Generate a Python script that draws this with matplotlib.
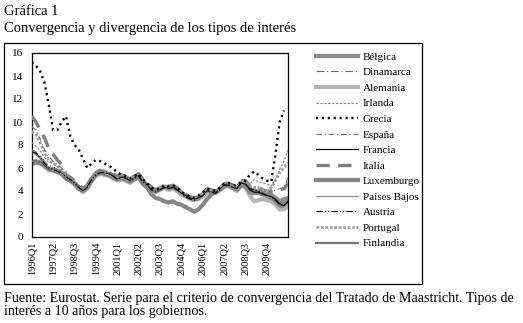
"""Gráfica 1: convergencia y divergencia de los tipos de interés a 10 años."""
import matplotlib
matplotlib.use("Agg")
import numpy as np
import matplotlib.pyplot as plt
from matplotlib.patches import Rectangle

plt.rcParams["font.family"] = ["Liberation Serif", "DejaVu Serif"]

# 1996Q1 .. 2011Q1
quarters = [f"{y}Q{q}" for y in range(1996, 2011) for q in range(1, 5)] + ["2011Q1"]
tick_labels = ["1996Q1", "1997Q2", "1998Q3", "1999Q4", "2001Q1", "2002Q2",
               "2003Q3", "2004Q4", "2006Q1", "2007Q2", "2008Q3", "2009Q4"]

belgica = [6.5, 6.6, 6.5, 6.2, 5.9, 5.9, 5.7, 5.6, 5.2, 5.0, 4.7, 4.3,
           4.0, 4.4, 5.1, 5.4, 5.7, 5.6, 5.5, 5.3, 5.1, 5.3, 5.2, 5.0,
           5.2, 5.4, 4.9, 4.5, 4.2, 4.0, 4.2, 4.4, 4.3, 4.4, 4.2, 3.9,
           3.6, 3.4, 3.3, 3.4, 3.7, 4.1, 4.0, 3.9, 4.2, 4.6, 4.6, 4.4,
           4.3, 4.7, 4.7, 4.2, 4.0, 3.9, 3.7, 3.6, 3.7, 3.4, 3.1, 3.3, 3.4]
dinamarca = [7.6, 7.4, 7.0, 6.6, 6.2, 6.1, 5.9, 5.7, 5.3, 5.1, 4.8, 4.5,
             4.2, 4.5, 5.2, 5.6, 5.8, 5.7, 5.7, 5.5, 5.2, 5.3, 5.2, 5.0,
             5.2, 5.4, 4.9, 4.6, 4.2, 4.0, 4.2, 4.4, 4.3, 4.4, 4.2, 3.8,
             3.5, 3.3, 3.2, 3.3, 3.6, 4.0, 3.9, 3.8, 4.1, 4.5, 4.5, 4.3,
             4.2, 4.7, 4.6, 4.2, 3.8, 3.9, 3.7, 3.5, 3.4, 3.0, 2.6, 2.6, 3.0]
alemania = [6.3, 6.5, 6.4, 6.1, 5.8, 5.8, 5.6, 5.5, 5.1, 4.9, 4.6, 4.2,
            3.9, 4.2, 4.9, 5.3, 5.5, 5.4, 5.3, 5.1, 4.9, 5.0, 4.9, 4.7,
            5.0, 5.2, 4.7, 4.4, 4.1, 3.9, 4.1, 4.3, 4.1, 4.2, 4.0, 3.7,
            3.5, 3.3, 3.2, 3.3, 3.5, 3.9, 3.8, 3.8, 4.1, 4.4, 4.4, 4.2,
            4.0, 4.5, 4.3, 3.6, 3.1, 3.2, 3.3, 3.2, 3.1, 2.8, 2.4, 2.4, 2.7]
irlanda = [8.2, 7.9, 7.5, 6.9, 6.5, 6.4, 6.1, 5.8, 5.2, 5.0, 4.7, 4.4,
           4.0, 4.3, 5.0, 5.5, 5.7, 5.6, 5.5, 5.3, 5.0, 5.2, 5.1, 4.9,
           5.1, 5.3, 4.8, 4.5, 4.1, 3.9, 4.1, 4.3, 4.2, 4.3, 4.1, 3.7,
           3.5, 3.3, 3.2, 3.3, 3.6, 4.0, 3.9, 3.8, 4.1, 4.5, 4.5, 4.4,
           4.3, 4.8, 4.8, 4.6, 5.0, 4.8, 4.7, 4.6, 4.4, 5.0, 5.9, 6.6, 7.7]
grecia = [15.2, 14.9, 14.4, 13.4, 11.5, 9.3, 9.3, 10.0, 10.5, 8.8, 8.0, 7.6,
          6.8, 6.0, 6.4, 6.7, 6.6, 6.4, 6.2, 6.0, 5.6, 5.4, 5.3, 5.1,
          5.3, 5.5, 5.0, 4.7, 4.3, 4.1, 4.2, 4.5, 4.4, 4.5, 4.3, 3.9,
          3.7, 3.5, 3.4, 3.6, 3.9, 4.2, 4.1, 4.0, 4.3, 4.6, 4.7, 4.5,
          4.5, 4.8, 4.9, 5.4, 5.7, 5.4, 5.1, 4.9, 4.8, 7.2, 10.0, 11.0, np.nan]
espana = [9.6, 9.3, 8.5, 7.6, 7.0, 6.6, 6.3, 6.0, 5.3, 5.1, 4.8, 4.4,
          4.1, 4.4, 5.1, 5.5, 5.7, 5.6, 5.5, 5.3, 5.1, 5.3, 5.2, 5.0,
          5.2, 5.4, 4.9, 4.5, 4.1, 3.9, 4.1, 4.3, 4.2, 4.3, 4.1, 3.7,
          3.5, 3.3, 3.2, 3.3, 3.6, 4.0, 3.9, 3.8, 4.1, 4.5, 4.6, 4.4,
          4.3, 4.7, 4.7, 4.2, 4.1, 4.1, 3.9, 3.8, 3.9, 4.1, 4.2, 4.3, 5.2]
francia = [6.6, 6.6, 6.5, 6.2, 5.8, 5.8, 5.6, 5.5, 5.1, 4.9, 4.6, 4.3,
           4.0, 4.3, 5.0, 5.4, 5.6, 5.5, 5.5, 5.3, 5.0, 5.2, 5.1, 4.9,
           5.1, 5.3, 4.8, 4.5, 4.1, 3.9, 4.1, 4.3, 4.2, 4.3, 4.1, 3.8,
           3.6, 3.4, 3.3, 3.4, 3.6, 4.0, 3.9, 3.9, 4.1, 4.5, 4.5, 4.3,
           4.2, 4.7, 4.6, 4.1, 3.9, 3.9, 3.7, 3.6, 3.5, 3.3, 2.9, 2.7, 3.1]
italia = [10.5, 10.0, 9.3, 8.6, 7.7, 7.2, 6.7, 6.3, 5.4, 5.2, 4.9, 4.5,
          4.2, 4.5, 5.2, 5.6, 5.8, 5.7, 5.7, 5.5, 5.3, 5.4, 5.3, 5.1,
          5.3, 5.5, 5.0, 4.7, 4.3, 4.1, 4.3, 4.5, 4.4, 4.5, 4.3, 3.9,
          3.7, 3.5, 3.4, 3.5, 3.8, 4.2, 4.1, 4.0, 4.3, 4.6, 4.7, 4.5,
          4.5, 4.9, 4.9, 4.4, 4.4, 4.3, 4.1, 4.0, 4.0, 4.0, 4.1, 4.2, 4.7]
luxemburgo = [6.4, 6.5, 6.4, 6.2, 5.9, 5.8, 5.7, 5.5, 5.1, 4.9, 4.6, 4.2,
              4.0, 4.3, 4.9, 5.4, 5.6, 5.5, 5.4, 5.2, 5.0, 5.1, 5.0, 4.8,
              5.0, 5.2, 4.6, 4.3, 3.7, 3.4, 3.3, 3.1, 3.0, 3.1, 2.9, 2.8,
              2.6, 2.4, 2.2, 2.4, 2.8, 3.3, 3.7, 3.9, 4.1, 4.4, 4.5, 4.3,
              4.1, 4.5, 4.4, 3.9, 3.8, 3.9, 3.8, 3.6, 3.4, 3.2, 2.8, 2.9, 3.1]
paises_bajos = [6.6, 6.6, 6.5, 6.1, 5.8, 5.8, 5.6, 5.5, 5.1, 4.9, 4.6, 4.2,
                3.9, 4.2, 5.0, 5.4, 5.6, 5.5, 5.4, 5.2, 5.0, 5.1, 5.0, 4.8,
                5.1, 5.3, 4.8, 4.4, 4.1, 3.9, 4.1, 4.3, 4.1, 4.2, 4.0, 3.7,
                3.5, 3.3, 3.2, 3.3, 3.6, 3.9, 3.9, 3.8, 4.1, 4.4, 4.5, 4.2,
                4.1, 4.6, 4.4, 3.9, 3.7, 3.7, 3.6, 3.5, 3.4, 3.0, 2.6, 2.6, 2.9]
austria = [7.4, 7.3, 6.9, 6.4, 6.0, 5.9, 5.7, 5.6, 5.2, 5.0, 4.7, 4.3,
           4.0, 4.3, 5.0, 5.4, 5.6, 5.6, 5.5, 5.3, 5.0, 5.2, 5.1, 4.9,
           5.1, 5.3, 4.8, 4.5, 4.1, 3.9, 4.1, 4.3, 4.2, 4.3, 4.1, 3.8,
           3.5, 3.3, 3.2, 3.4, 3.6, 4.0, 3.9, 3.8, 4.1, 4.5, 4.5, 4.3,
           4.2, 4.7, 4.6, 4.2, 4.1, 4.0, 3.8, 3.6, 3.5, 3.2, 2.8, 2.8, 3.1]
portugal = [9.2, 8.9, 8.2, 7.3, 6.7, 6.4, 6.2, 5.9, 5.3, 5.1, 4.8, 4.4,
            4.1, 4.4, 5.1, 5.6, 5.8, 5.7, 5.6, 5.4, 5.1, 5.3, 5.2, 5.0,
            5.2, 5.4, 4.9, 4.5, 4.2, 4.0, 4.2, 4.4, 4.2, 4.3, 4.1, 3.8,
            3.5, 3.4, 3.3, 3.4, 3.7, 4.1, 4.0, 3.9, 4.2, 4.6, 4.6, 4.4,
            4.3, 4.8, 4.8, 4.4, 4.3, 4.3, 4.1, 4.0, 4.3, 4.9, 5.6, 6.0, 6.5]
finlandia = [7.5, 7.2, 6.9, 6.4, 5.9, 5.9, 5.7, 5.6, 5.2, 5.0, 4.7, 4.3,
             4.0, 4.3, 5.0, 5.4, 5.6, 5.5, 5.5, 5.3, 5.0, 5.2, 5.1, 4.8,
             5.1, 5.3, 4.8, 4.5, 4.1, 3.9, 4.1, 4.3, 4.2, 4.3, 4.1, 3.8,
             3.5, 3.3, 3.2, 3.3, 3.6, 4.0, 3.9, 3.8, 4.1, 4.5, 4.5, 4.3,
             4.2, 4.6, 4.5, 4.0, 3.8, 3.8, 3.7, 3.5, 3.4, 3.0, 2.7, 2.7, 3.0]

# (label, values, colour, width, dash pattern or None for solid)
series = [
    ("Bélgica", belgica, "#8c8c8c", 3.0, None),
    ("Dinamarca", dinamarca, "#6e6e6e", 0.8, (7, 2.5, 1, 2.5)),
    ("Alemania", alemania, "#b5b5b5", 3.0, None),
    ("Irlanda", irlanda, "#8a8a8a", 0.8, (2.2, 1.3)),
    ("Grecia", grecia, "black", 1.7, (0.9, 1.6)),
    ("España", espana, "#777777", 0.8, (5, 2.5, 1, 2.5)),
    ("Francia", francia, "black", 0.8, None),
    ("Italia", italia, "#7f7f7f", 2.4, (4, 2.5)),
    ("Luxemburgo", luxemburgo, "#858585", 3.0, None),
    ("Países Bajos", paises_bajos, "#8f8f8f", 0.9, None),
    ("Austria", austria, "black", 0.8, (6, 1.8, 1, 1.8, 1, 1.8)),
    ("Portugal", portugal, "#a3a3a3", 2.0, (1.0, 0.6)),
    ("Finlandia", finlandia, "#777777", 1.6, None),
]
# thick lines first, thin and dotted on top
zorder = {"Bélgica": 2, "Alemania": 2, "Luxemburgo": 2, "Italia": 3, "Portugal": 3,
          "Finlandia": 4, "Grecia": 6}

fig = plt.figure(figsize=(5.23, 3.23), dpi=100)
ax = fig.add_axes([31.7 / 523, 1 - 237 / 323, 256.6 / 523, 184 / 323])

x = np.arange(len(quarters))
handles = []
for label, vals, color, lw, dashes in series:
    ls = "-" if dashes is None else (0, dashes)
    h, = ax.plot(x, vals, color=color, lw=lw, ls=ls, label=label,
                 zorder=zorder.get(label, 5))
    handles.append(h)

ax.set_xlim(0, len(quarters) - 1)
ax.set_ylim(0, 16)
ax.set_yticks(range(0, 17, 2))
ax.set_xticks([quarters.index(t) for t in tick_labels])
ax.set_xticklabels(tick_labels, rotation=90, fontsize=7.5)
ax.tick_params(axis="y", labelsize=8, length=0, pad=6)
ax.tick_params(axis="x", length=0, pad=3.5)
for sp in ax.spines.values():
    sp.set_linewidth(0.9)
    sp.set_color("black")

fig.legend(handles=handles, loc="upper left", bbox_to_anchor=(316 / 523, 1 - 52 / 323),
           frameon=False, fontsize=8, handlelength=3.8, handletextpad=0.4,
           labelspacing=0.52, borderpad=0, borderaxespad=0)

# outer frame around chart + legend
fig.add_artist(Rectangle((4 / 523, 1 - 284 / 323), 418 / 523, 241 / 323,
                         transform=fig.transFigure, fill=False, lw=0.9, ec="black"))

fig.text(4 / 523, 1 - 15 / 323, "Gráfica 1", fontsize=10.5, va="baseline")
fig.text(4 / 523, 1 - 32 / 323, "Convergencia y divergencia de los tipos de interés",
         fontsize=10.5, va="baseline")
fig.text(4 / 523, 1 - 302 / 323,
         "Fuente: Eurostat. Serie para el criterio de convergencia del Tratado de Maastricht. Tipos de",
         fontsize=10.1, va="baseline")
fig.text(4 / 523, 1 - 315 / 323, "interés a 10 años para los gobiernos.",
         fontsize=10.1, va="baseline")

fig.savefig("out.png", dpi=100)
